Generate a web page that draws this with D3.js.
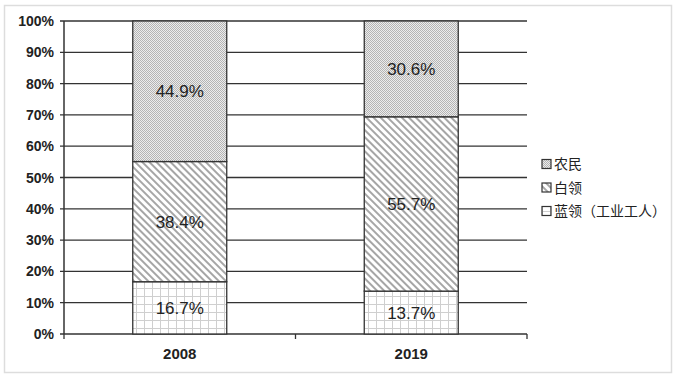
<!DOCTYPE html>
<html>
<head>
<meta charset="utf-8">
<script src="https://cdn.jsdelivr.net/npm/d3@7"></script>
<style>
  body { margin: 0; background: #fff; }
  svg { display: block; }
</style>
</head>
<body>
<div id="chart"></div>
<script>
// data
var years = ["2008", "2019"];
var seriesNames = ["蓝领（工业工人）", "白领", "农民"];   // bottom -> top
var blueCollar = [16.7, 13.7];
var whiteCollar = [38.4, 55.7];
var farmers = [44.9, 30.6];
var yTicks = [0, 10, 20, 30, 40, 50, 60, 70, 80, 90, 100];

var width = 677, height = 378;
var plotLeft = 64, plotRight = 527, plotTop = 21, plotBottom = 334;

var svg = d3.select("#chart").append("svg")
  .attr("width", width).attr("height", height);

svg.append("rect").attr("x", 4.5).attr("y", 5.5).attr("width", 667).attr("height", 367)
  .attr("fill", "#fff").attr("stroke", "#ddd").attr("stroke-width", 1.5);

// patterns
var defs = svg.append("defs");
var pDots = defs.append("pattern").attr("id", "p-dots")
  .attr("patternUnits", "userSpaceOnUse").attr("width", 2).attr("height", 2);
pDots.append("rect").attr("width", 2).attr("height", 2).attr("fill", "#ececec");
pDots.append("rect").attr("width", 1).attr("height", 1).attr("fill", "#b4b4b4");
pDots.append("rect").attr("x", 1).attr("y", 1).attr("width", 1).attr("height", 1).attr("fill", "#b4b4b4");

var pStripe = defs.append("pattern").attr("id", "p-stripe")
  .attr("patternUnits", "userSpaceOnUse").attr("width", 5).attr("height", 5)
  .attr("patternTransform", "rotate(-45)");
pStripe.append("rect").attr("width", 5).attr("height", 5).attr("fill", "#fff");
pStripe.append("line").attr("x1", 1).attr("x2", 1).attr("y1", 0).attr("y2", 5)
  .attr("stroke", "#888").attr("stroke-width", 1.5);

var pGrid = defs.append("pattern").attr("id", "p-grid")
  .attr("patternUnits", "userSpaceOnUse").attr("width", 8).attr("height", 8);
pGrid.append("rect").attr("width", 8).attr("height", 8).attr("fill", "#fff");
pGrid.append("path").attr("d", "M0,0.5H8M0.5,0V8")
  .attr("stroke", "#cfcfcf").attr("stroke-width", 1).attr("fill", "none");

var fills = ["url(#p-grid)", "url(#p-stripe)", "url(#p-dots)"];

var x = d3.scaleBand().domain(years).range([plotLeft, plotRight])
  .paddingInner(0.594).paddingOuter(0.297);
var y = d3.scaleLinear().domain([0, 100]).range([plotBottom, plotTop]);

// gridlines
svg.append("g").selectAll("line").data(yTicks).enter().append("line")
  .attr("x1", plotLeft - 4).attr("x2", plotRight)
  .attr("y1", function(d){ return y(d); }).attr("y2", function(d){ return y(d); })
  .attr("stroke", "#333").attr("stroke-width", 1.3);

// y labels
svg.append("g").selectAll("text").data(yTicks).enter().append("text")
  .attr("x", 54).attr("y", function(d){ return y(d); })
  .attr("dy", "0.36em").attr("text-anchor", "end")
  .attr("font-family", "Liberation Sans, Arial, sans-serif")
  .attr("font-size", 14).attr("font-weight", "bold").attr("fill", "#222")
  .text(function(d){ return d + "%"; });

// stack
var rows = years.map(function(yr, i){
  return { year: yr, s0: blueCollar[i], s1: whiteCollar[i], s2: farmers[i] };
});
var stack = d3.stack().keys(["s0", "s1", "s2"]);
var layers = stack(rows);

var g = svg.append("g").selectAll("g").data(layers).enter().append("g")
  .attr("fill", function(d, i){ return fills[i]; });

g.selectAll("rect").data(function(d){ return d; }).enter().append("rect")
  .attr("x", function(d){ return x(d.data.year); })
  .attr("width", x.bandwidth())
  .attr("y", function(d){ return y(d[1]); })
  .attr("height", function(d){ return y(d[0]) - y(d[1]); })
  .attr("stroke", "#333").attr("stroke-width", 1.3);

g.selectAll("text").data(function(d){ return d; }).enter().append("text")
  .attr("x", function(d){ return x(d.data.year) + x.bandwidth() / 2; })
  .attr("y", function(d){ return y((d[0] + d[1]) / 2); })
  .attr("dy", "0.36em").attr("text-anchor", "middle")
  .attr("font-family", "Liberation Sans, Arial, sans-serif")
  .attr("font-size", 17).attr("fill", "#222")
  .text(function(d){ return (d[1] - d[0]).toFixed(1) + "%"; });

// axes lines
svg.append("line").attr("x1", plotLeft).attr("x2", plotLeft).attr("y1", plotTop).attr("y2", plotBottom)
  .attr("stroke", "#333").attr("stroke-width", 1.5);
var xTickPos = [plotLeft, (plotLeft + plotRight) / 2, plotRight];
svg.append("g").selectAll("line").data(xTickPos).enter().append("line")
  .attr("x1", function(d){ return d; }).attr("x2", function(d){ return d; })
  .attr("y1", plotBottom).attr("y2", plotBottom + 5)
  .attr("stroke", "#333").attr("stroke-width", 1.3);

// x labels
svg.append("g").selectAll("text").data(years).enter().append("text")
  .attr("x", function(d){ return x(d) + x.bandwidth() / 2; })
  .attr("y", 359).attr("text-anchor", "middle")
  .attr("font-family", "Liberation Sans, Arial, sans-serif")
  .attr("font-size", 15).attr("font-weight", "bold").attr("fill", "#222")
  .text(function(d){ return d; });

// legend (top -> bottom: 农民, 白领, 蓝领)
var legendOrder = [2, 1, 0];
var leg = svg.append("g").selectAll("g").data(legendOrder).enter().append("g")
  .attr("transform", function(d, i){ return "translate(542," + (164 + i * 23.5) + ")"; });
leg.append("rect").attr("x", 0).attr("y", -4.5).attr("width", 9).attr("height", 9)
  .attr("fill", function(d){ return fills[d]; })
  .attr("stroke", "#333").attr("stroke-width", 1.2);
leg.append("text").attr("x", 12).attr("y", 0).attr("dy", "0.36em")
  .attr("font-family", "Noto Sans CJK SC, sans-serif")
  .attr("font-size", 14).attr("fill", "#222")
  .text(function(d){ return seriesNames[d]; });
</script>
</body>
</html>
